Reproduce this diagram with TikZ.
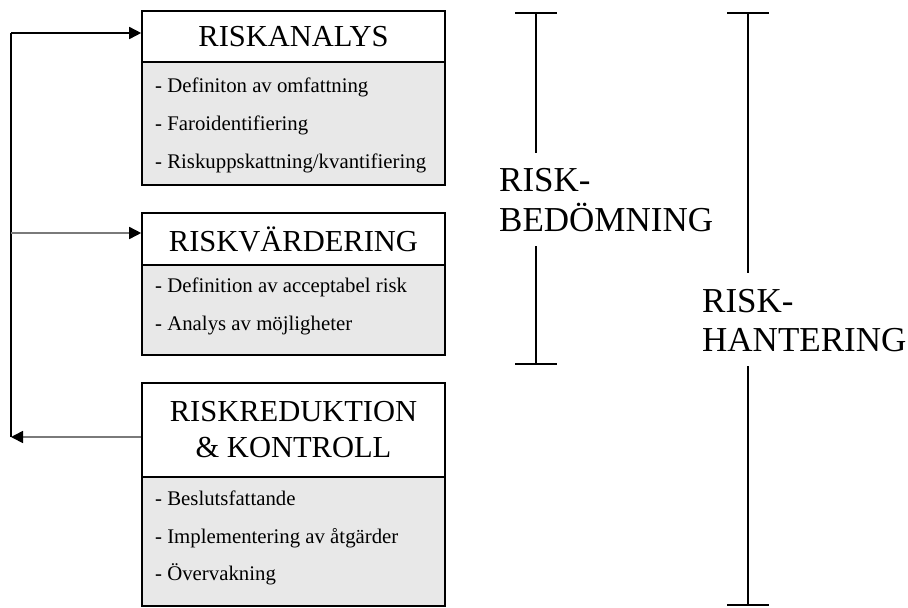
\documentclass[tikz,border=0pt]{standalone}
\usepackage{fontspec}
\setmainfont{Liberation Serif}
\usetikzlibrary{arrows.meta}
\definecolor{bodygray}{HTML}{E8E8E8}
\definecolor{linkgray}{HTML}{7A7A7A}
\tikzset{
  hdr/.style={draw=black, line width=1.6pt, fill=white, minimum width=303pt,
    inner sep=0pt, align=center, font=\fontsize{30.5}{36}\selectfont},
  bodybox/.style={draw=black, line width=1.6pt, fill=bodygray, minimum width=303pt,
    inner sep=0pt},
  item/.style={anchor=base west, inner sep=0pt, font=\fontsize{20.8}{24}\selectfont},
  tag/.style={anchor=base west, inner sep=0pt, font=\fontsize{35}{40}\selectfont},
  loopline/.style={line width=1.6pt, black},
  feedline/.style={line width=1.6pt, linkgray},
  tip/.style={-{Triangle[length=12pt, width=12pt, color=black]}},
  bracketline/.style={line width=1.2pt, black}
}
\begin{document}
\begin{tikzpicture}[x=1pt, y=-1pt]
\useasboundingbox (0,0) rectangle (908,608);

% --- Riskanalys ---
\node[bodybox, minimum height=123pt] (b1) at (293.5,123.5) {};
\node[hdr, minimum height=51pt] (h1) at (293.5,36.5) {RISKANALYS};
\node[item] (t11) at (155,92) {- Definiton av omfattning};
\node[item] (t12) at (155,130) {- Faroidentifiering};
\node[item] (t13) at (155,168) {- Riskuppskattning/kvantifiering};

% --- Riskvärdering ---
\node[bodybox, minimum height=90pt] (b2) at (293.5,310) {};
\node[hdr, minimum height=52pt] (h2) at (293.5,239) {RISKVÄRDERING};
\node[item] (t21) at (155,292) {- Definition av acceptabel risk};
\node[item] (t22) at (155,330) {- Analys av möjligheter};

% --- Riskreduktion & kontroll ---
\node[bodybox, minimum height=129pt] (b3) at (293.5,541.5) {};
\node[hdr, minimum height=94pt] (h3) at (293.5,430) {RISKREDUKTION\\\& KONTROLL};
\node[item] (t31) at (155,505) {- Beslutsfattande};
\node[item] (t32) at (155,543) {- Implementering av åtgärder};
\node[item] (t33) at (155,580) {- Övervakning};

% --- feedback loop on the left ---
\coordinate (L1) at (11,33);
\coordinate (L2) at (11,233);
\coordinate (L3) at (11,437);
\draw[loopline] (L3) -- (L1);
\draw[loopline, tip] (L1) -- (L1 -| h1.west);
\draw[feedline, tip] (L2) -- (L2 -| h2.west);
\draw[feedline, tip] (L3 -| h3.west) -- (L3);

% --- bracket: riskbedömning ---
\node[tag] (bed1) at (499,191) {RISK-};
\node[tag] (bed2) at (499,231) {BEDÖMNING};
\draw[bracketline] (515,13) -- (557,13);
\draw[bracketline] (536,13) -- (536,153);
\draw[bracketline] (536,246) -- (536,364);
\draw[bracketline] (515,364) -- (557,364);

% --- bracket: riskhantering ---
\node[tag] (han1) at (702,312) {RISK-};
\node[tag] (han2) at (702,351) {HANTERING};
\draw[bracketline] (727,13) -- (769,13);
\draw[bracketline] (748,13) -- (748,273);
\draw[bracketline] (748,366) -- (748,605);
\draw[bracketline] (727,605) -- (769,605);
\end{tikzpicture}
\end{document}
